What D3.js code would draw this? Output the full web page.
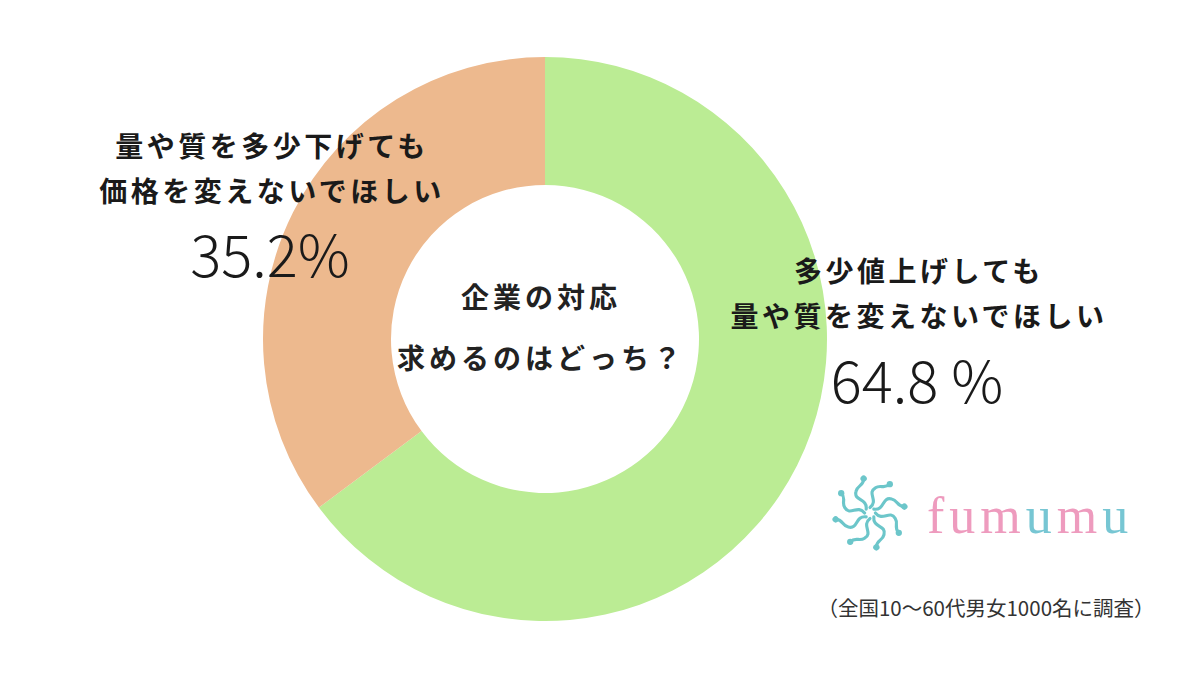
<!DOCTYPE html>
<html>
<head>
<meta charset="utf-8">
<script src="https://cdn.jsdelivr.net/npm/d3@7"></script>
<style>
  body { margin: 0; background: #fff; }
  text { font-family: "Noto Sans CJK JP", "Noto Sans", sans-serif; }
</style>
</head>
<body>
<div id="chart"></div>
<script>
var width = 1200;
var height = 686;

// data
var categories = ["多少値上げしても量や質を変えないでほしい", "量や質を多少下げても価格を変えないでほしい"];
var values = [64.8, 35.2];
var labelLines = [["多少値上げしても", "量や質を変えないでほしい"], ["量や質を多少下げても", "価格を変えないでほしい"]];
var valueLabels = ["64.8 %", "35.2%"];
var colors = ["#BBEC94", "#EDB98E"];
var centerLines = ["企業の対応", "求めるのはどっち？"];
var footnote = "（全国10〜60代男女1000名に調査）";

var cx = 545, cy = 339;
var outerR = 282, innerR = 154;

var svg = d3.select('#chart')
	.append('svg')
	.attr('width', width)
	.attr('height', height);

var pie = d3.pie().sort(null).value(function(d){ return d; });
var arc = d3.arc().innerRadius(innerR).outerRadius(outerR);

svg.append('g')
	.attr('transform', 'translate(' + cx + ',' + cy + ')')
	.selectAll('path')
	.data(pie(values))
	.enter()
	.append('path')
	.attr('d', arc)
	.attr('fill', function(d, i){ return colors[i]; });

// slice labels
var labelPos = [{x: 917, y: 282, vy: 403}, {x: 270, y: 157, vy: 277}];

labelPos.forEach(function(p, i){
	var g = svg.append('g');
	labelLines[i].forEach(function(line, j){
		g.append('text')
			.attr('x', p.x + 2)
			.attr('y', p.y + j * 45)
			.attr('text-anchor', 'middle')
			.attr('font-size', 28)
			.attr('font-weight', 700)
			.attr('letter-spacing', 3.5)
			.attr('fill', '#1a1a1a')
			.text(line);
	});
	g.append('text')
		.attr('x', p.x)
		.attr('y', p.vy)
		.attr('text-anchor', 'middle')
		.attr('font-size', 58)
		.attr('font-weight', 300)
		.attr('fill', '#1a1a1a')
		.text(valueLabels[i]);
});

// center text
centerLines.forEach(function(line, j){
	svg.append('text')
		.attr('x', cx - 4)
		.attr('y', 308 + j * 61)
		.attr('text-anchor', 'middle')
		.attr('font-size', 28)
		.attr('font-weight', 700)
		.attr('letter-spacing', 4)
		.attr('fill', '#222')
		.text(line);
});

// logo
var logo = svg.append('g').attr('transform', 'translate(870,513) scale(0.9)');
d3.range(8).forEach(function(k){
	var b = logo.append('g').attr('transform', 'rotate(' + (k * 45) + ')');
	b.append('path')
		.attr('d', 'M0,-6 C10,-14 -4,-22 6,-28 C12,-32 16,-26 22,-32')
		.attr('fill', 'none')
		.attr('stroke', '#6CC6CA')
		.attr('stroke-width', 3.5)
		.attr('stroke-linecap', 'round');
	b.append('circle')
		.attr('cx', 22).attr('cy', -32).attr('r', 3.5)
		.attr('fill', '#6CC6CA');
});

var logoText = svg.append('text')
	.attr('x', 927)
	.attr('y', 533)
	.attr('font-size', 52)
	.attr('letter-spacing', 5)
	.style('font-family', '"Liberation Serif", "DejaVu Serif", serif');
var letterColors = ['#EE9BBE', '#EE9BBE', '#EE9BBE', '#77C6D3', '#EE9BBE', '#77C6D3'];
'fumumu'.split('').forEach(function(c, i){
	logoText.append('tspan').attr('fill', letterColors[i]).text(c);
});

svg.append('text')
	.attr('x', 986)
	.attr('y', 616)
	.attr('text-anchor', 'middle')
	.attr('font-size', 20.5)
	.attr('fill', '#333')
	.text(footnote);
</script>
</body>
</html>
